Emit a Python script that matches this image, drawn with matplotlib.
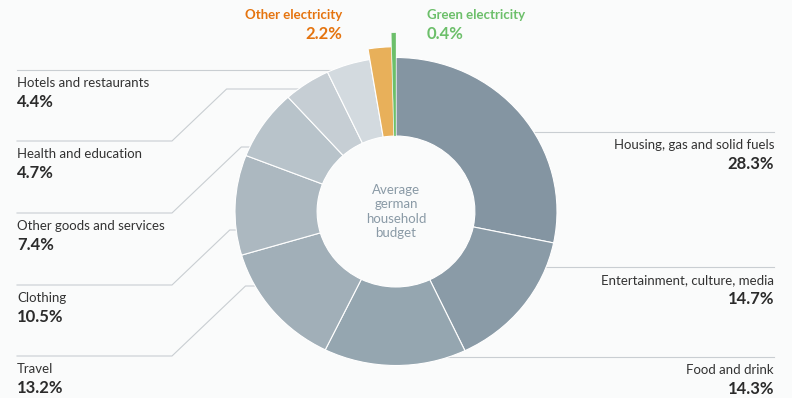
import numpy as np
import matplotlib.pyplot as plt

# household budget shares, clockwise from 12 o'clock
categories = ["Housing, gas and solid fuels", "Entertainment, culture, media", "Food and drink",
              "Travel", "Clothing", "Other goods and services", "Health and education",
              "Hotels and restaurants", "Other electricity", "Green electricity"]
shares = [28.3, 14.7, 14.3, 13.2, 10.5, 7.4, 4.7, 4.4, 2.2, 0.4]
value_labels = ["28.3%", "14.7%", "14.3%", "13.2%", "10.5%", "7.4%", "4.7%", "4.4%", "2.2%", "0.4%"]

colors = ["#8495a2", "#8a9ba7", "#95a6b0", "#a1afb8", "#acb8c0", "#b8c3ca",
          "#c6ced4", "#d3dadf", "#e8b05a", "#6cbf6a"]
outer = [1.0] * 8 + [1.07, 1.16]   # electricity wedges stick out
inner = 0.49

W, H = 792, 398
cx, cy = 396, 211.5     # pie centre in px
rx, ry = 161, 154       # pie radius in px (x, y)
BG = "#fafbfb"
plt.rcParams['font.family'] = ['Lato', 'DejaVu Sans']

fig = plt.figure(figsize=(W / 100, H / 100), dpi=100, facecolor=BG)

# pie axes
ext = 1.3
pax = fig.add_axes([(cx - ext * rx) / W, (H - cy - ext * ry) / H, 2 * ext * rx / W, 2 * ext * ry / H])
wedges, _ = pax.pie(shares, colors=colors, startangle=90, counterclock=False,
                    wedgeprops=dict(width=1 - inner, edgecolor="white", linewidth=0.8))
for w, r in zip(wedges, outer):
    w.set_radius(r)
    w.set_width(r - inner)
wedges[-1].set_linewidth(0.2)
pax.set_aspect('auto')
pax.set_xlim(-ext, ext)
pax.set_ylim(-ext, ext)
pax.axis('off')
pax.text(0, 0, "Average\ngerman\nhousehold\nbudget", ha='center', va='center',
         fontsize=9.5, color="#8a9aa6", linespacing=1.25)

# overlay in pixel coordinates for labels and leader lines
ax = fig.add_axes([0, 0, 1, 1], zorder=-1)
ax.set_xlim(0, W)
ax.set_ylim(H, 0)
ax.axis('off')
ax.set_facecolor(BG)

line_c = "#c9ced2"
ring = 0.94
name_fs, value_fs = 9.5, 12


def anchor_x(y, side):
    v = (cy - y) / ry
    u = np.sqrt(max(ring ** 2 - v ** 2, 0))
    return cx + side * u * rx


# right side: straight leaders (index, line y)
right_rows = [(0, 132), (1, 267), (2, 357)]
for i, ly in right_rows:
    ax.plot([anchor_x(ly, 1), 774], [ly, ly], color=line_c, lw=0.8)
    ax.text(774, ly + 13, categories[i], ha='right', va='center', fontsize=name_fs, color="#333333")
    ax.text(774, ly + 32, value_labels[i], ha='right', va='center', fontsize=value_fs,
            fontweight='bold', color="#2b2b2b")

# left side: (index, line y, anchor y)
left_rows = [(7, 70, 70), (6, 141, 89), (5, 213, 147), (4, 285, 230), (3, 356, 286)]
for i, ly, ay in left_rows:
    ex = anchor_x(ay, -1)
    if ly == ay:
        xs, ys = [17, ex], [ly, ly]
    else:
        kx = 172 + (ly - ay) * 1.05
        xs, ys = [17, 172, kx, ex], [ly, ly, ay, ay]
    ax.plot(xs, ys, color=line_c, lw=0.8)
    ax.text(17, ly + 13, categories[i], ha='left', va='center', fontsize=name_fs, color="#333333")
    ax.text(17, ly + 32, value_labels[i], ha='left', va='center', fontsize=value_fs,
            fontweight='bold', color="#2b2b2b")

# electricity labels on top
ax.text(342, 15, categories[8], ha='right', va='center', fontsize=name_fs, fontweight='bold', color="#e5740f")
ax.text(342, 34, value_labels[8], ha='right', va='center', fontsize=value_fs, fontweight='bold', color="#e5740f")
ax.text(427, 15, categories[9], ha='left', va='center', fontsize=name_fs, fontweight='bold', color="#6cbf6a")
ax.text(427, 34, value_labels[9], ha='left', va='center', fontsize=value_fs, fontweight='bold', color="#6cbf6a")

fig.savefig("out.png", dpi=100, facecolor=BG)
